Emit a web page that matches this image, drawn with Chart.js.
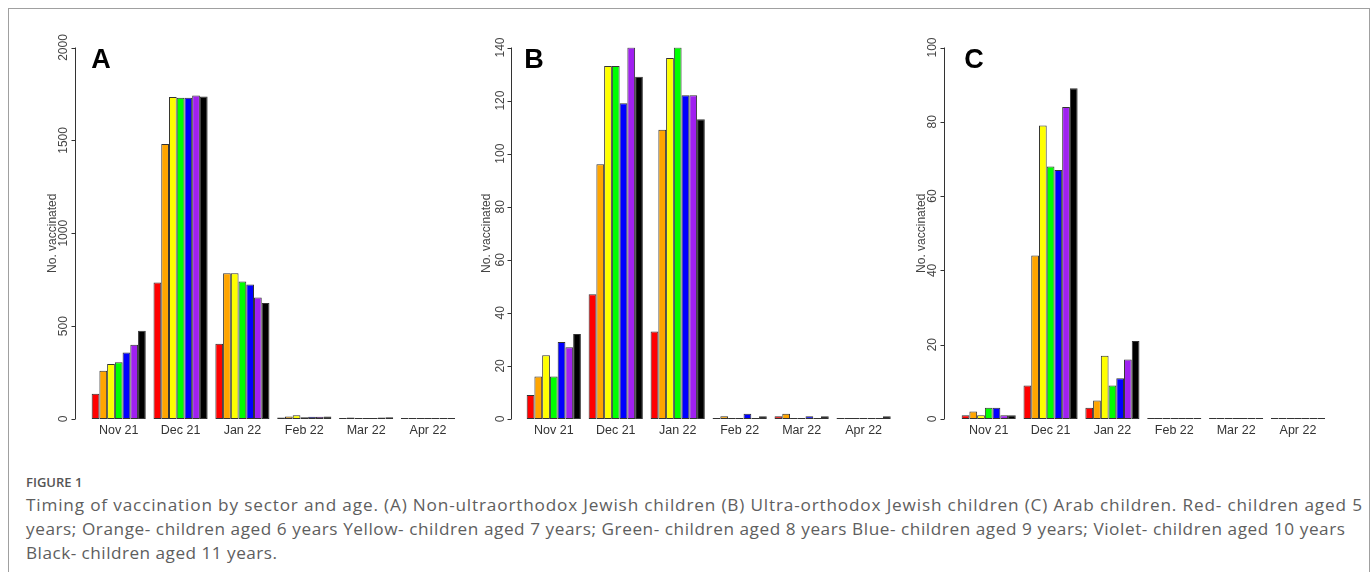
<!DOCTYPE html>
<html>
<head>
<meta charset="utf-8">
<script src="https://cdn.jsdelivr.net/npm/chart.js@4.4.1/dist/chart.umd.min.js"></script>
<style>
  body { margin: 0; background: #fff; width: 1372px; height: 572px; overflow: hidden; position: relative; }
  canvas { position: absolute; left: 0; top: 0; }
  .frame { position: absolute; left: 8px; top: 8px; width: 1362px; height: 700px; box-sizing: border-box; border: 1px solid #a0a0a0; }
  .cap { position: absolute; left: 26px; white-space: nowrap; font-family: "Open Sans", sans-serif; color: #5e5e5e; }
  .cap span { display: inline-block; }
  .fig { top: 470px; font-size: 13px; font-weight: 600; color: #555; line-height: 24px; }
  .line { font-size: 17.2px; line-height: 24px; }
</style>
</head>
<body>
<div class="frame"></div>
<canvas id="chartA" width="1372" height="450"></canvas>
<canvas id="chartB" width="1372" height="450"></canvas>
<canvas id="chartC" width="1372" height="450"></canvas>
<div class="cap fig"><span>FIGURE 1</span></div>
<div class="cap line" style="top:493px"><span data-w="1336">Timing of vaccination by sector and age. (A) Non-ultraorthodox Jewish children (B) Ultra-orthodox Jewish children (C) Arab children. Red- children aged 5</span></div>
<div class="cap line" style="top:517px"><span data-w="1319">years; Orange- children aged 6 years Yellow- children aged 7 years; Green- children aged 8 years Blue- children aged 9 years; Violet- children aged 10 years</span></div>
<div class="cap line" style="top:541px"><span data-w="251">Black- children aged 11 years.</span></div>
<script>
const months = ["Nov 21", "Dec 21", "Jan 22", "Feb 22", "Mar 22", "Apr 22"];
const ages = ["5 years", "6 years", "7 years", "8 years", "9 years", "10 years", "11 years"];
const barColors = ["#ff0000", "#ffa500", "#ffff00", "#00ff00", "#0000ff", "#a020f0", "#000000"];

// rows = age 5..11, columns = months
const valuesA = [
  [136, 735, 405, 8, 3, 0],
  [260, 1480, 785, 14, 8, 0],
  [296, 1733, 785, 20, 3, 0],
  [305, 1729, 740, 10, 1, 0],
  [358, 1729, 724, 12, 3, 0],
  [400, 1742, 654, 12, 8, 0],
  [475, 1736, 624, 14, 10, 3]
];
const valuesB = [
  [9, 47, 33, 0, 1, 0],
  [16, 96, 109, 1, 2, 0],
  [24, 133, 136, 0, 0, 0],
  [16, 133, 140, 0, 0, 0],
  [29, 119, 122, 2, 1, 0],
  [27, 140, 122, 0, 0, 0],
  [32, 129, 113, 1, 1, 1]
];
const valuesC = [
  [1, 9, 3, 0, 0, 0],
  [2, 44, 5, 0, 0, 0],
  [1, 79, 17, 0, 0, 0],
  [3, 68, 9, 0, 0, 0],
  [3, 67, 11, 0, 0, 0],
  [1, 84, 16, 0, 0, 0],
  [1, 89, 21, 0, 0, 0]
];

const axisFont = "Liberation Sans, Arial, sans-serif";

// R-style y axis: line from 0 to max, outward ticks, rotated labels
const rAxis = {
  id: "rAxis",
  afterDraw(chart, args, o) {
    const ctx = chart.ctx;
    const y = chart.scales.y;
    const x0 = o.axisX;
    ctx.save();
    ctx.strokeStyle = "#333";
    ctx.lineWidth = 1;
    ctx.beginPath();
    ctx.moveTo(x0, y.getPixelForValue(0));
    ctx.lineTo(x0, y.getPixelForValue(y.max));
    y.ticks.forEach(t => {
      const py = Math.round(y.getPixelForValue(t.value)) + 0.5;
      ctx.moveTo(x0, py);
      ctx.lineTo(x0 - 4, py);
    });
    ctx.stroke();
    ctx.fillStyle = "#444";
    ctx.font = "12px " + axisFont;
    ctx.textAlign = "center";
    ctx.textBaseline = "middle";
    y.ticks.forEach(t => {
      ctx.save();
      ctx.translate(o.labelX, y.getPixelForValue(t.value));
      ctx.rotate(-Math.PI / 2);
      ctx.fillText(String(t.value), 0, 0);
      ctx.restore();
    });
    ctx.save();
    ctx.translate(o.titleX, (y.top + y.bottom) / 2);
    ctx.rotate(-Math.PI / 2);
    ctx.fillText("No. vaccinated", 0, 0);
    ctx.restore();
    ctx.fillStyle = "#000";
    ctx.font = "bold 27px " + axisFont;
    ctx.fillText(o.letter, o.letterX, 61);
    ctx.restore();
  }
};

function makePanel(id, values, yMax, step, g) {
  new Chart(document.getElementById(id), {
    type: "bar",
    data: {
      labels: months,
      datasets: ages.map((a, i) => ({
        label: a,
        data: values[i],
        backgroundColor: barColors[i],
        borderColor: "#333",
        borderWidth: 1,
        borderSkipped: false,
        minBarLength: 1,
        barPercentage: 1,
        categoryPercentage: 0.875
      }))
    },
    options: {
      responsive: false,
      animation: false,
      layout: { padding: { left: g.left, right: 1372 - g.right, top: 47.5, bottom: 11 } },
      plugins: {
        legend: { display: false },
        tooltip: { enabled: false },
        rAxis: g
      },
      scales: {
        x: {
          grid: { display: false, drawTicks: false },
          border: { display: false },
          ticks: { color: "#333", padding: 4, font: { family: axisFont, size: 12.5 } },
          afterFit(s) { s.height = 20; }
        },
        y: { display: false, min: 0, max: yMax, ticks: { stepSize: step } }
      }
    },
    plugins: [rAxis]
  });
}

makePanel("chartA", valuesA, 2000, 500, { left: 87.8, right: 458.9, axisX: 75.5, labelX: 64, titleX: 52.5, letter: "A", letterX: 101 });
makePanel("chartB", valuesB, 140, 20, { left: 522.8, right: 894.6, axisX: 511.5, labelX: 500.5, titleX: 487, letter: "B", letterX: 534 });
makePanel("chartC", valuesC, 100, 20, { left: 957.8, right: 1328.9, axisX: 944.5, labelX: 933, titleX: 921.5, letter: "C", letterX: 974 });

// stretch caption lines to the measured widths
document.querySelectorAll(".cap span[data-w]").forEach(s => {
  const target = +s.dataset.w;
  const w = s.getBoundingClientRect().width;
  const n = s.textContent.length - 1;
  s.style.letterSpacing = ((target - w) / n) + "px";
});
</script>
</body>
</html>
